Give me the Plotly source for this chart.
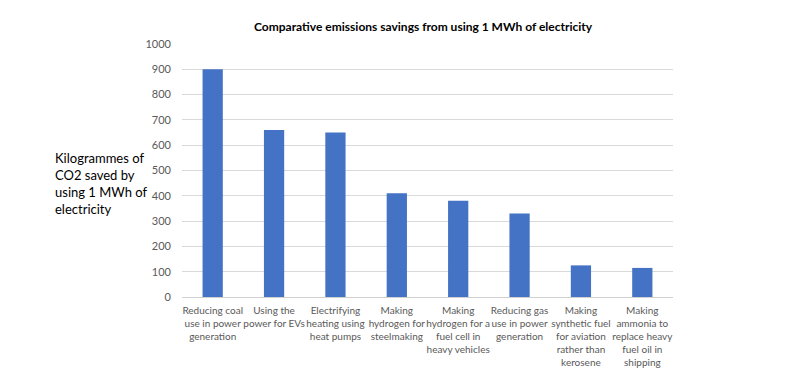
import plotly.graph_objects as go

categories = [
    "Reducing coal<br>use in power<br>generation",
    "Using the<br>power for EVs",
    "Electrifying<br>heating using<br>heat pumps",
    "Making<br>hydrogen for<br>steelmaking",
    "Making<br>hydrogen for a<br>fuel cell in<br>heavy vehicles",
    "Reducing gas<br>use in power<br>generation",
    "Making<br>synthetic fuel<br>for aviation<br>rather than<br>kerosene",
    "Making<br>ammonia to<br>replace heavy<br>fuel oil in<br>shipping",
]
values = [900, 660, 650, 410, 380, 330, 125, 115]
y_ticks = list(range(0, 1001, 100))

font_family = "Lato, 'Open Sans', sans-serif"

fig = go.Figure(
    go.Bar(x=categories, y=values, marker=dict(color="#4472C4", line=dict(width=0)))
)

fig.update_layout(
    width=800, height=379,
    margin=dict(l=174, r=135, t=36, b=90, autoexpand=False),
    paper_bgcolor="white", plot_bgcolor="white",
    bargap=0.67,
    showlegend=False,
    font=dict(family=font_family, color="#595959", size=10),
    title=dict(
        text="<b>Comparative emissions savings from using 1 MWh of electricity</b>",
        x=0.491, xanchor="center", xref="paper",
        y=1 - 19 / 379, yref="container", yanchor="middle",
        font=dict(family=font_family, size=12, color="#000000"),
    ),
)

fig.update_yaxes(
    range=[0, 1000], tickvals=y_ticks,
    showgrid=True, gridcolor="#d9d9d9", gridwidth=1,
    zeroline=False, showline=False,
    tickfont=dict(size=11, color="#595959"),
    ticklabelstandoff=10,
    automargin=False,
)
fig.update_xaxes(
    showline=True, linecolor="#d0d0d0", linewidth=1,
    showgrid=False,
    tickfont=dict(size=10, color="#595959"),
    tickangle=0,
    ticklabelstandoff=4,
    automargin=False,
)

fig.add_annotation(
    text="Kilogrammes of<br>CO2 saved by<br>using 1 MWh of<br>electricity",
    xref="paper", yref="paper", x=(45 - 174) / 491, y=0.449,
    xanchor="left", yanchor="middle", align="left", showarrow=False,
    font=dict(family=font_family, size=13, color="#000000"),
)

fig.write_html("out.html")
